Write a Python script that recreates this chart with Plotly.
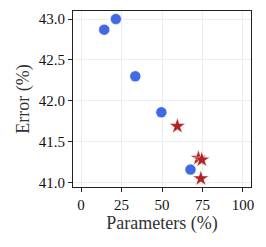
import plotly.graph_objects as go

blue_params = [14.3, 21.5, 33.5, 49.6, 67.6]
blue_error = [42.87, 43.0, 42.3, 41.86, 41.16]
red_params = [59.5, 72.5, 74.6, 74.0]
red_error = [41.69, 41.30, 41.28, 41.05]
x_ticks = [0, 25, 50, 75, 100]
y_ticks = [41.0, 41.5, 42.0, 42.5, 43.0]

fig = go.Figure()
fig.add_trace(go.Scatter(x=blue_params, y=blue_error, mode="markers",
                         marker=dict(symbol="circle", size=11, color="#4169E1",
                                     line=dict(color="white", width=0.5)),
                         showlegend=False))
fig.add_trace(go.Scatter(x=red_params, y=red_error, mode="markers",
                         marker=dict(symbol="star", size=12, color="#B22222",
                                     line=dict(color="white", width=0.5)),
                         showlegend=False))

axis_common = dict(showline=True, linecolor="#222", linewidth=1, mirror=True,
                   ticks="outside", ticklen=4, tickcolor="#222",
                   showgrid=True, gridcolor="#ededed", gridwidth=1, zeroline=False,
                   tickfont=dict(family="Liberation Serif", size=15, color="#111"))
fig.update_xaxes(range=[-5, 105], tickvals=x_ticks,
                 title=dict(text="Parameters (%)", font=dict(family="Liberation Serif", size=18, color="#333"), standoff=4),
                 **axis_common)
fig.update_yaxes(range=[40.947, 43.098], tickvals=y_ticks, tickformat=".1f",
                 title=dict(text="Error (%)", font=dict(family="Liberation Serif", size=18, color="#333"), standoff=4),
                 **axis_common)
fig.update_layout(width=266, height=247, margin=dict(l=73, r=15, t=11, b=60),
                  plot_bgcolor="white", paper_bgcolor="white")
fig.write_html("out.html", config={"displayModeBar": False},
               post_script="document.body.style.margin='0';document.body.style.padding='0';")
